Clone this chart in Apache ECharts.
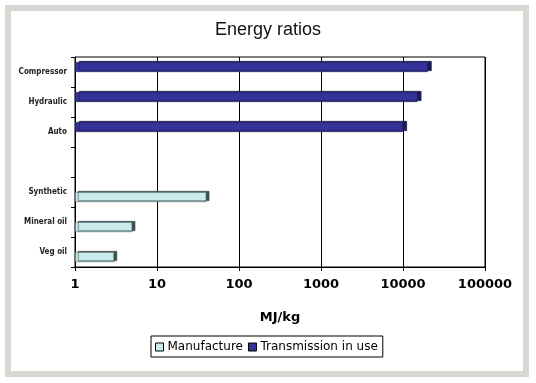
<!DOCTYPE html>
<html>
<head>
<meta charset="utf-8">
<script src="https://cdn.jsdelivr.net/npm/echarts@6/dist/echarts.min.js"></script>
<style>
html,body{margin:0;padding:0;background:#fff;}
#c{width:536px;height:383px;}
</style>
</head>
<body>
<div id="c"></div>
<script>
const categories = ['Veg oil', 'Mineral oil', 'Synthetic', '', 'Auto', 'Hydraulic', 'Compressor'];
const manufacture = [3, 5, 40, '-', '-', '-', '-'];
const transmission = ['-', '-', '-', '-', 10000, 15000, 20000];
const xTicks = [1, 10, 100, 1000, 10000, 100000];
const seriesNames = ['Manufacture', 'Transmission in use'];

const chart = echarts.init(document.getElementById('c'));
const font = 'DejaVu Sans';
chart.setOption({
  animation: false,
  backgroundColor: '#fff',
  title: {
    text: 'Energy ratios', left: 'center', top: 21, padding: 0,
    textStyle: { fontFamily: 'Liberation Sans', fontSize: 18, fontWeight: 'normal', color: '#111' }
  },
  graphic: [{
    type: 'rect', silent: true, z: -1,
    shape: { x: 8, y: 8, width: 518, height: 366 },
    style: { fill: 'none', stroke: '#d9d7d2', lineWidth: 6 }
  }],
  legend: {
    data: seriesNames,
    left: 151, top: 336,
    padding: [5, 5, 4, 4],
    itemWidth: 8, itemHeight: 8, itemGap: 5,
    borderColor: '#000', borderWidth: 1,
    icon: 'rect',
    itemStyle: { borderColor: '#000', borderWidth: 1 },
    textStyle: { fontFamily: font, fontSize: 12, color: '#000', padding: [0, 0, 0, -1] }
  },
  grid: { left: 75, right: 51, top: 57, bottom: 116, show: true, borderColor: '#000', borderWidth: 1 },
  xAxis: {
    type: 'log', logBase: 10, min: xTicks[0], max: xTicks[xTicks.length - 1],
    name: 'MJ/kg', nameLocation: 'middle', nameGap: 44,
    nameTextStyle: { fontFamily: font, fontSize: 13, fontWeight: 'bold', color: '#000' },
    axisLine: { show: true, lineStyle: { color: '#000', width: 1 } },
    axisTick: { show: true, length: 4, lineStyle: { color: '#000' } },
    minorTick: { show: false },
    splitLine: { show: true, lineStyle: { color: '#000', width: 1 } },
    axisLabel: {
      margin: 11, fontFamily: font, fontSize: 13, fontWeight: 'bold', color: '#000',
      formatter: v => String(Math.round(v))
    }
  },
  yAxis: {
    type: 'category', data: categories,
    axisLine: { show: true, lineStyle: { color: '#000', width: 1 } },
    axisTick: { show: true, length: 4, interval: 0, lineStyle: { color: '#000' } },
    axisLabel: { margin: 8, fontFamily: 'DejaVu Sans Condensed', fontWeight: 'bold', fontSize: 8, color: '#222', interval: 0 },
    splitLine: { show: false }
  },
  series: [
    {
      name: seriesNames[1], type: 'bar', data: transmission,
      barWidth: 10, barGap: '0%',
      itemStyle: {
        color: '#33339a', borderColor: '#20205a', borderWidth: 0.6,
        shadowColor: '#1c1c50', shadowOffsetX: 4, shadowOffsetY: -1, shadowBlur: 0
      }
    },
    {
      name: seriesNames[0], type: 'bar', data: manufacture,
      barWidth: 10, barGap: '0%',
      itemStyle: {
        color: '#c9ebeb', borderColor: '#3d5050', borderWidth: 0.6,
        shadowColor: '#3d4f50', shadowOffsetX: 3, shadowOffsetY: -1, shadowBlur: 0
      }
    }
  ]
});
</script>
</body>
</html>
